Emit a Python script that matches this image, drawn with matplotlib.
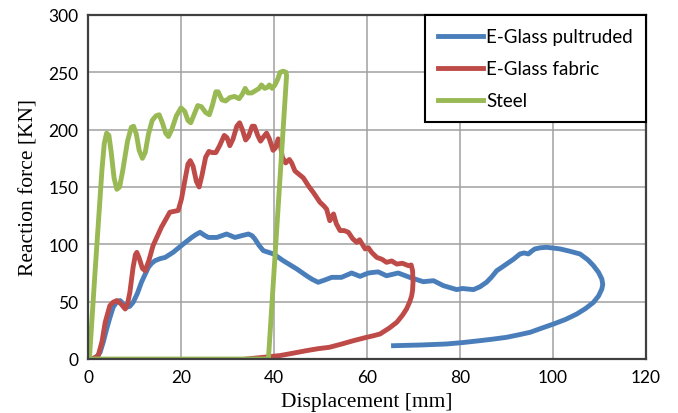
import matplotlib
matplotlib.use("Agg")
import matplotlib.pyplot as plt

# E-Glass pultruded (displacement mm, force kN)
pult_x = [1.1, 2.0, 2.6, 3.3, 4.0, 4.7, 5.4, 6.2, 6.9, 7.6, 8.3, 9.0, 9.7, 10.6, 11.5, 12.3,
          13.0, 13.7, 14.4, 15.5, 16.6, 18.3, 20.5, 22.3, 23.2, 24.1, 25.0, 25.9, 27.7, 29.8,
          31.6, 33.0, 34.5, 35.3, 35.9, 36.8, 37.7, 39.9, 42.0, 44.9, 47.0, 48.2, 49.5, 51.0,
          52.4, 54.5, 56.7, 58.5, 60.3, 62.4, 64.2, 66.7, 69.2, 72.1, 74.3, 76.4, 79.3, 80.5,
          82.9, 84.3, 85.7, 86.8, 87.9, 89.0, 90.0, 91.5, 92.9, 93.8, 94.7, 95.4, 96.1, 97.3,
          98.6, 100.0, 101.5, 103.6, 105.8, 107.5, 108.7, 109.8, 110.5, 110.7, 110.5, 109.8,
          108.7, 107.0, 105.1, 102.7, 100.1, 97.5, 95.1, 92.5, 90.0, 87.0, 84.3, 80.5, 77.1,
          74.0, 71.4, 68.5, 65.7]
pult_y = [0, 2.5, 5.8, 15, 26, 36, 45, 50, 51, 48, 45, 46, 49.4, 57, 67, 74,
          80, 83.5, 85.7, 87.5, 88.6, 93, 100.3, 106, 108.5, 110.5, 108, 106, 106, 109,
          106, 107.5, 109, 107.5, 104.6, 99, 94.5, 91.6, 85.7, 78.5, 72.6, 69.5, 66.9, 69,
          71.2, 71.2, 75, 72.1, 75, 76, 72.6, 75, 71.2, 67.4, 68.3, 64, 60.5, 61.5,
          60.5, 63, 66.9, 71.5, 77, 80, 82.8, 87, 91.6, 92.5, 91.6, 94, 96, 97,
          97.4, 96.8, 96, 94, 91.6, 86.5, 81.4, 75.5, 69.8, 65, 61, 55,
          49.4, 44, 39.2, 34.5, 30.5, 26.8, 23.3, 21, 18.9, 17.3, 16, 14.3, 13.1,
          12.6, 12.2, 11.9, 11.6]

# E-Glass fabric
fab_x = [0.4, 1.4, 2.2, 3.0, 3.7, 4.7, 5.4, 6.2, 7.1, 8.0, 8.5, 9.0, 9.7, 10.2, 10.5, 11.0,
         11.7, 12.3, 13.1, 14.0, 15.8, 17.6, 19.4, 20.1, 20.8, 21.5, 22.0, 22.6, 23.3, 23.9,
         24.5, 25.3, 26.0, 26.7, 27.5, 28.3, 29.3, 29.9, 30.5, 31.2, 32.0, 32.6, 33.2, 33.9,
         34.5, 35.3, 35.8, 36.5, 37.1, 37.8, 38.4, 39.0, 39.8, 40.3, 40.9, 41.3, 41.8, 42.5,
         43.3, 43.8, 44.5, 45.4, 46.3, 47.4, 48.5, 49.9, 50.6, 51.3, 52.0, 52.8, 53.4, 54.2,
         55.1, 56.0, 56.9, 57.8, 58.4, 59.6, 60.3, 61.0, 62.1, 63.2, 64.2, 65.3, 66.4, 67.6,
         68.9, 69.5, 69.8, 69.9, 69.8, 69.6, 69.2, 68.5, 67.6, 66.4, 64.8, 62.8, 61.3, 59.9,
         57.1, 54.5, 51.9, 49.5, 47.0, 44.0, 41.3, 38.5, 36.0, 34.1]
fab_y = [0, 1, 3, 15, 32, 46.5, 49.5, 51, 48, 43.6, 48, 58, 80, 91, 93, 88,
         79, 77, 86, 99, 115, 128, 129.5, 139.5, 155, 170, 173, 168, 155, 150,
         160, 176, 181, 180, 180, 186, 195, 193, 186, 192, 203, 206, 200, 191,
         194, 203, 203, 195, 190, 194, 197, 192, 182, 184, 192, 188, 176, 171,
         174, 171, 164, 161, 158, 151, 145, 136.6, 134, 130.8, 120.6, 126.5, 118, 112,
         112, 110.5, 105, 101.7, 104, 96, 97, 93, 88.6, 87, 84.3, 85.5, 82.8, 83.5,
         81.4, 82, 77, 67, 60, 55, 50, 43.6, 38, 32, 27, 21.8, 20.2, 18.9,
         16, 13, 10.2, 9, 7.3, 5, 3, 1.8, 0.8, 0]

# Steel
steel_x = [0.3, 1.5, 2.5, 3.0, 3.5, 4.0, 4.5, 5.0, 5.6, 6.2, 6.8, 7.5, 8.5, 9.3, 9.8, 10.4,
           11.0, 11.7, 12.3, 13.0, 13.8, 14.6, 15.3, 16.0, 16.7, 17.3, 18.0, 19.0, 20.0, 20.8,
           21.5, 22.1, 22.8, 23.6, 24.4, 25.3, 26.1, 26.8, 27.5, 28.0, 28.8, 29.6, 30.5, 31.5,
           32.5, 33.2, 33.8, 34.4, 35.2, 36.0, 36.8, 37.3, 38.0, 38.6, 39.0, 39.6, 40.2, 40.8,
           41.3, 42.0, 42.6, 42.7, 38.8, 0.5, 0.3]
steel_y = [0, 75, 135, 165, 188, 197, 195, 180, 158, 148, 150, 165, 190, 202, 203, 196,
           182, 175, 180, 196, 208, 212, 213, 206, 197, 194, 200, 212, 219, 216,
           208, 206, 213, 221, 220, 215, 213, 222, 233, 233, 226, 225, 228, 229,
           227, 231, 236, 232, 232, 234, 236, 239, 236, 237, 239, 236, 239, 244,
           250, 251, 250, 247, 0, 0, 0]

x_ticks = [0, 20, 40, 60, 80, 100, 120]
y_ticks = [0, 50, 100, 150, 200, 250, 300]

fig = plt.figure(figsize=(6.78, 4.14), dpi=100)
ax = fig.add_axes([88 / 678, 1 - 360 / 414, (646 - 88) / 678, (360 - 16) / 414])

ax.plot(pult_x, pult_y, color="#4A7EBB", lw=3.5, label="E-Glass pultruded", solid_joinstyle="round")
ax.plot(fab_x, fab_y, color="#BE4B48", lw=3.5, label="E-Glass fabric", solid_joinstyle="round")
ax.plot(steel_x, steel_y, color="#98B954", lw=3.5, label="Steel", solid_joinstyle="round")

ax.set_xlim(0, 120)
ax.set_ylim(0, 300)
ax.set_xticks(x_ticks)
ax.set_yticks(y_ticks)
ax.grid(True, color="#A0A0A0", lw=1.1)
ax.set_axisbelow(True)
for s in ax.spines.values():
    s.set_color("#404040")
    s.set_linewidth(1.6)
ax.tick_params(length=0, pad=7, labelsize=12.5, colors="black")
for lab in ax.get_xticklabels() + ax.get_yticklabels():
    lab.set_family("Lato")

ax.set_xlabel("Displacement [mm]", family="Liberation Serif", fontsize=15.5, labelpad=5)
ax.set_ylabel("Reaction force [KN]", family="Liberation Serif", fontsize=15.5, labelpad=7)

leg = ax.legend(loc="upper right", borderaxespad=0, fancybox=False, framealpha=1,
                edgecolor="black", prop={"family": "Lato", "size": 13.5},
                handlelength=2.4, handletextpad=0.15, labelspacing=0.8, borderpad=0.7)
leg.get_frame().set_linewidth(1.5)

fig.savefig("out.png", dpi=100)
